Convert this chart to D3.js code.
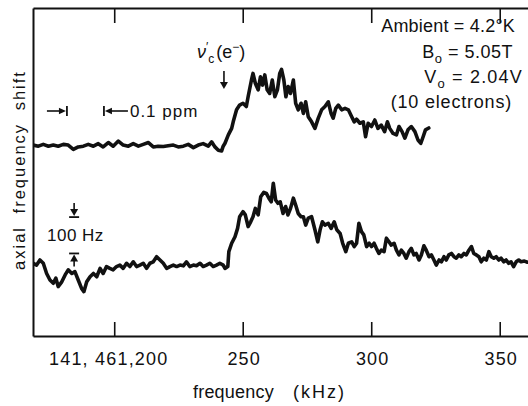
<!DOCTYPE html>
<html><head><meta charset="utf-8">
<script src="https://cdn.jsdelivr.net/npm/d3@7"></script>
<style>
body{margin:0;background:#fff}
svg{display:block}
text{font-family:"Liberation Sans",Arial,sans-serif;fill:#111}
</style>
</head><body>
<svg id="c" width="528" height="406"></svg>
<script>
// ---- data (frequency in kHz, axial frequency shift in Hz on an arbitrary offset) ----
const freqUpper=[168.5,170.5,172.4,174.4,176.3,178.2,180.2,182.1,184.1,186.0,188.0,189.9,191.9,193.8,195.7,197.7,199.6,201.6,203.5,205.5,207.4,209.4,211.3,213.3,215.2,217.1,219.1,221.0,223.0,224.9,226.9,228.8,230.8,232.7,234.6,236.6,237.9,239.2,240.5,241.8,242.4,
243.1,244.4,245.7,246.3,247.6,248.8,250.1,251.4,252.1,253.4,254.0,254.9,256.0,256.9,257.7,258.6,259.5,260.5,261.5,262.5,263.5,264.4,265.1,266.0,266.8,267.7,268.6,269.7,270.6,271.6,272.7,273.6,274.5,275.5,276.8,278.1,279.4,280.7,282.0,283.3,284.4,285.2,286.2,287.2,288.5,289.8,291.1,292.4,293.4,294.3,295.6,296.9,297.8,298.8,300.1,301.4,302.6,303.9,305.2,306.3,307.2,308.5,309.8,310.8,312.0,313.1,314.3,315.6,317.0,318.2,319.3,320.2,321.1,322.4];
const shiftUpper=[525,522,527,522,525,522,527,525,513,520,522,527,522,529,520,532,522,536,525,522,529,522,527,532,520,522,521,523,525,520,522,527,518,525,529,522,534,520,511,509,522,
530,553,571,589,622,635,640,631,658,704,722,695,677,713,690,718,677,667,704,658,677,722,733,704,658,686,667,704,640,622,640,612,644,603,589,571,599,622,631,644,612,599,626,635,622,626,622,603,589,596,585,589,548,585,576,594,571,580,562,589,571,557,553,576,562,544,567,576,562,539,530,548,567,572];

const freqLower=[168.5,169.8,171.1,172.4,173.7,175.0,176.3,177.3,178.2,179.6,180.9,182.1,183.5,184.7,186.0,187.3,188.2,189.3,190.6,191.9,193.2,194.5,195.7,197.0,198.3,199.6,200.9,202.2,203.5,204.8,206.1,207.4,208.7,210.0,211.3,212.6,213.9,215.2,216.5,217.8,219.1,220.4,221.7,223.0,224.3,225.6,226.9,228.1,229.4,230.8,232.0,233.4,234.6,235.9,237.2,238.5,239.8,241.1,242.4,
243.1,244.2,244.6,245.7,247.0,248.0,248.8,250.1,251.0,252.1,253.1,254.0,254.9,256.0,257.0,258.2,259.2,260.2,261.1,261.9,262.8,263.7,264.6,265.7,266.7,267.6,268.6,269.7,270.6,271.6,272.7,273.6,274.5,275.5,276.8,278.1,279.2,280.1,281.0,282.0,283.3,284.4,285.6,286.6,287.9,288.9,290.1,291.1,292.4,293.4,294.3,295.2,296.2,297.1,298.2,299.2,300.1,301.1,302.0,303.0,303.9,305.0,305.9,306.9,307.8,308.9,309.8,310.8,311.7,312.7,313.6,314.7,315.6,316.6,317.5,318.6,319.5,320.5,321.4,322.5,323.4,324.4,325.3,326.4,327.3,328.3,329.2,330.2,331.2,332.2,333.1,334.1,335.0,336.1,337.0,338.0,339.0,339.9,340.9,341.9,342.8,343.8,344.8,345.8,346.7,347.7,348.6,349.6,350.5,351.6,352.5,353.5,354.4,355.4,356.4,357.4,358.3,359.6,360.8];
const shiftLower=[200,195,209,200,172,154,145,159,136,149,168,182,172,177,154,131,122,149,163,172,163,186,172,191,186,182,191,195,186,200,191,204,191,195,200,186,200,204,218,209,200,186,191,195,191,195,193,204,191,195,193,200,191,195,200,191,195,200,195,
186,191,232,255,273,296,328,342,333,301,314,328,351,333,383,395,392,379,369,420,374,365,369,337,356,333,351,379,360,337,328,328,305,324,328,292,259,292,314,305,310,296,314,292,282,255,232,255,259,246,255,310,287,278,246,255,246,255,241,227,236,232,269,259,250,255,236,223,236,227,214,232,241,223,227,209,223,248,236,218,223,209,195,209,204,218,209,223,227,218,214,223,218,227,223,236,246,227,223,218,204,214,209,232,218,214,218,209,214,204,209,200,204,191,204,209,204,206,203];

const tickValues=[200,250,300,350];
const tickLabels=["141, 461,200","250","300","350"];

const conditions=["Ambient = 4.2°K"];
const resonanceFreq=242.7;      // kHz, ν'c(e-) marker
const ppmMarks=[181.6,196.0];   // kHz, 0.1 ppm scale marks
const hzMarks=[227,327];        // Hz, 100 Hz scale marks
const hzMarkFreq=184.4;         // kHz, where the 100 Hz scale is drawn

// ---- layout ----
const svg=d3.select("#c");
const L=33,R=528,T=8,B=336;
const x=d3.scaleLinear().domain([168.4,361]).range([L,R]);
const y=d3.scaleLinear().domain([0,902]).range([B,T]);

svg.append("defs").append("clipPath").attr("id","clip")
  .append("rect").attr("x",L).attr("y",T).attr("width",R-L).attr("height",B-T);

// axes
const gb=svg.append("g").attr("transform",`translate(0,${B})`)
  .call(d3.axisBottom(x).tickValues(tickValues).tickFormat((d,i)=>tickLabels[i])
        .tickSizeInner(-14).tickSizeOuter(0).tickPadding(16));
gb.select(".domain").attr("stroke","#111").attr("stroke-width",2);
gb.selectAll(".tick line").attr("stroke","#111").attr("stroke-width",1.6);
gb.selectAll(".tick text").style("font-family",'"Liberation Sans",Arial,sans-serif')
  .style("font-size","18px").style("letter-spacing","1.2px").attr("fill","#111")
  .attr("dx",(d,i)=>i===0?-6:1);

const gt=svg.append("g").attr("transform",`translate(0,${T})`)
  .call(d3.axisTop(x).tickValues(tickValues).tickFormat("").tickSizeInner(-15).tickSizeOuter(0));
gt.select(".domain").attr("stroke","#111").attr("stroke-width",2);
gt.selectAll(".tick line").attr("stroke","#111").attr("stroke-width",1.6);

const gl=svg.append("g").attr("transform",`translate(${L},0)`)
  .call(d3.axisLeft(y).tickValues([]).tickSizeOuter(0));
gl.select(".domain").attr("stroke","#111").attr("stroke-width",2);

// traces
const line=d3.line().x(d=>x(d[0])).y(d=>y(d[1]));
const traces=svg.append("g").attr("clip-path","url(#clip)");
[[freqUpper,shiftUpper],[freqLower,shiftLower]].forEach(([f,s])=>{
  traces.append("path").datum(d3.zip(f,s)).attr("d",line)
    .attr("fill","none").attr("stroke","#111").attr("stroke-width",3.6)
    .attr("stroke-linejoin","round").attr("stroke-linecap","round");
});

// axis titles
svg.append("text").attr("x",193).attr("y",398).style("font-size","18px").style("letter-spacing","0.2px").text("frequency");
svg.append("text").attr("x",293).attr("y",398).style("font-size","18px").style("letter-spacing","2px").text("(kHz)");
svg.append("text").attr("transform","translate(25,170) rotate(-90)").attr("text-anchor","middle")
  .style("font-size","16.5px").style("letter-spacing","2px").style("word-spacing","6px")
  .text("axial frequency shift");

// conditions block
const ann=svg.append("g").style("font-size","18px");
ann.append("text").attr("x",515).attr("y",32).attr("text-anchor","end").style("letter-spacing","0.2px").text(conditions[0]);
const b0=ann.append("text").attr("x",513).attr("y",58).attr("text-anchor","end").style("letter-spacing","0.5px");
b0.append("tspan").text("B");
b0.append("tspan").attr("dy",5).style("font-size","13px").text("o");
b0.append("tspan").attr("dy",-5).text(" = 5.05T");
const v0=ann.append("text").attr("x",523).attr("y",83).attr("text-anchor","end").style("letter-spacing","1.2px");
v0.append("tspan").text("V");
v0.append("tspan").attr("dy",5).style("font-size","13px").text("o");
v0.append("tspan").attr("dy",-5).text(" = 2.04V");
ann.append("text").attr("x",512).attr("y",108).attr("text-anchor","end").style("letter-spacing","0.8px").text("(10 electrons)");

// resonance label and arrow
const nu=svg.append("text").attr("x",197).attr("y",58).style("font-size","18px");
nu.append("tspan").style("font-style","italic").text("ν");
nu.append("tspan").attr("dy",-7).style("font-size","12px").text("′");
nu.append("tspan").attr("dy",12).style("font-size","12px").text("c");
nu.append("tspan").attr("dx",2).attr("dy",-5).text("(e");
nu.append("tspan").attr("dy",-7).style("font-size","12px").text("−");
nu.append("tspan").attr("dy",7).text(")");

function arrowHead(tx,ty,dir){ // filled triangle with tip at (tx,ty)
  const a=4,l=7; let p;
  if(dir==="down") p=[[tx,ty],[tx-a,ty-l],[tx+a,ty-l]];
  if(dir==="up") p=[[tx,ty],[tx-a,ty+l],[tx+a,ty+l]];
  if(dir==="right") p=[[tx,ty],[tx-l,ty-a*0.8],[tx-l,ty+a*0.8]];
  if(dir==="left") p=[[tx,ty],[tx+l,ty-a*0.8],[tx+l,ty+a*0.8]];
  svg.append("path").attr("d","M"+p.join("L")+"Z").attr("fill","#111");
}
const seg=(x1,y1,x2,y2,w)=>svg.append("line").attr("x1",x1).attr("y1",y1).attr("x2",x2).attr("y2",y2)
  .attr("stroke","#111").attr("stroke-width",w||1.6);

const xr=x(resonanceFreq);
seg(xr,71,xr,84);
arrowHead(xr,89,"down");

// 0.1 ppm scale
const p1=x(ppmMarks[0]), p2=x(ppmMarks[1]), py=111;
seg(p1-20,py,p1-4,py); arrowHead(p1-1,py,"right"); seg(p1,py-5,p1,py+5,1.8);
seg(p2,py-5,p2,py+5,1.8); arrowHead(p2+1,py,"left"); seg(p2+4,py,p2+24,py);
svg.append("text").attr("x",p2+26).attr("y",117).style("font-size","17px").style("letter-spacing","1px").text("0.1 ppm");

// 100 Hz scale
const hx=x(hzMarkFreq), h1=y(hzMarks[1]), h2=y(hzMarks[0]);
seg(hx,h1-14,hx,h1-5); arrowHead(hx,h1-1,"down"); seg(hx-5,h1,hx+5,h1,1.8);
seg(hx-5,h2,hx+5,h2,1.8); arrowHead(hx,h2+1,"up"); seg(hx,h2+5,hx,h2+13);
svg.append("text").attr("x",47).attr("y",241).style("font-size","17px").style("letter-spacing","0.5px").text("100 Hz");
</script>
</body></html>
